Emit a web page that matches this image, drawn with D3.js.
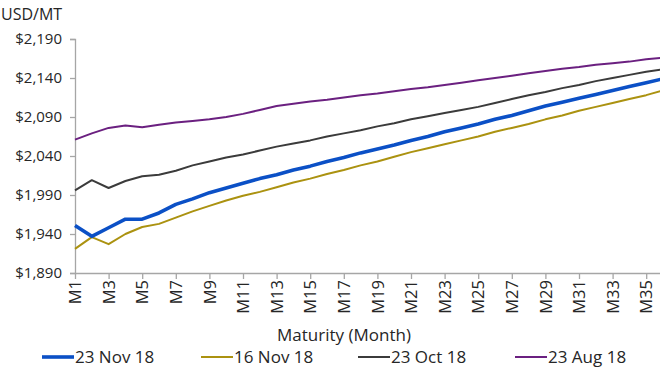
<!DOCTYPE html>
<html><head><meta charset="utf-8">
<script src="https://cdn.jsdelivr.net/npm/d3@7"></script>
<style>html,body{margin:0;padding:0;background:#fff;overflow:hidden}svg{display:block}text{font-family:"Open Sans","Lato",sans-serif;fill:#262626}</style>
</head><body>
<script>
const categories = d3.range(1, 37).map(i => "M" + i);
const nov23 = [1951,1937,1948,1959,1959,1967,1978,1985,1993,1999,2005,2011,2016,2022,2027,2033,2038,2044,2049,2054,2060,2065,2071,2076,2081,2087,2092,2098,2104,2109,2114,2119,2124,2129,2134,2139];
const nov16 = [1921,1936,1927,1940,1949,1953,1961,1969,1976,1983,1989,1994,2000,2006,2011,2017,2022,2028,2033,2039,2045,2050,2055,2060,2065,2071,2076,2081,2087,2092,2098,2103,2108,2113,2118,2124];
const oct23 = [1996,2009,1999,2008,2014,2016,2021,2028,2033,2038,2042,2047,2052,2056,2060,2065,2069,2073,2078,2082,2087,2091,2095,2099,2103,2108,2113,2118,2122,2127,2131,2136,2140,2144,2148,2151];
const aug23 = [2061,2069,2076,2079,2077,2080,2083,2085,2087,2090,2094,2099,2104,2107,2110,2112,2115,2118,2120,2123,2126,2128,2131,2134,2137,2140,2143,2146,2149,2152,2154,2157,2159,2161,2164,2166];
const yTicks = [1890,1940,1990,2040,2090,2140,2190];
const seriesNames = ["23 Nov 18","16 Nov 18","23 Oct 18","23 Aug 18"];
const seriesColors = ["#0b50c6","#ab9210","#3b3b3b","#6b2080"];
const seriesWidths = [3.6,2,2,2];
const seriesData = [nov23, nov16, oct23, aug23];

const W = 660, H = 372;
const svg = d3.select("body").append("svg").attr("width", W).attr("height", H);
const x = d3.scalePoint().domain(categories).range([75, 75 + 35*16.8]);
const y = d3.scaleLinear().domain([1890, 2190]).range([273, 39]);
const fmt = v => "$" + d3.format(",")(v);

// y axis
const ya = svg.append("g").attr("transform", "translate(75,0)")
  .call(d3.axisLeft(y).tickValues(yTicks).tickFormat(fmt).tickSize(5).tickPadding(8));
ya.select(".domain").attr("stroke", "#a6a6a6").attr("stroke-width", 1.3);
ya.selectAll(".tick line").attr("stroke", "#a6a6a6").attr("stroke-width", 1.3);
ya.selectAll("text").attr("font-size", 15).attr("fill", "#262626").attr("font-family", "'Open Sans', sans-serif");

// x axis
const xa = svg.append("g").attr("transform", "translate(0,273)")
  .call(d3.axisBottom(x).tickValues(categories.filter((c,i)=>i%2===0)).tickSize(6).tickSizeOuter(0));
xa.select(".domain").attr("stroke", "#a6a6a6").attr("stroke-width", 1.3).attr("d", "M75,0.5H660");
xa.selectAll(".tick line").attr("stroke", "#a6a6a6").attr("stroke-width", 1.3);
xa.selectAll("text").attr("font-size", 16.5).attr("fill", "#262626").attr("font-family", "'Open Sans', sans-serif")
  .attr("transform", "rotate(-90)").attr("text-anchor", "end").attr("dy", "0.35em").attr("x", -7).attr("y", 0);

// lines
const line = d3.line().x((d,i)=>x(categories[i])).y(d=>y(d));
const order = [3,2,1,0];
order.forEach(k => {
  svg.append("path").datum(seriesData[k]).attr("d", line).attr("fill","none")
    .attr("stroke", seriesColors[k]).attr("stroke-width", seriesWidths[k]).attr("stroke-linejoin","round");
});

svg.append("text").attr("x", 1).attr("y", 20).attr("font-size", 16).text("USD/MT");
svg.append("text").attr("x", 344).attr("y", 341).attr("text-anchor","middle").attr("font-size", 17).text("Maturity (Month)");

// legend
const legX = [42, 201, 358, 515];
seriesNames.forEach((n,i) => {
  svg.append("line").attr("x1", legX[i]).attr("x2", legX[i]+32).attr("y1", 357).attr("y2", 357)
    .attr("stroke", seriesColors[i]).attr("stroke-width", seriesWidths[i]);
  svg.append("text").attr("x", legX[i]+33).attr("y", 363).attr("font-size", 17).text(n);
});
</script>
</body></html>
